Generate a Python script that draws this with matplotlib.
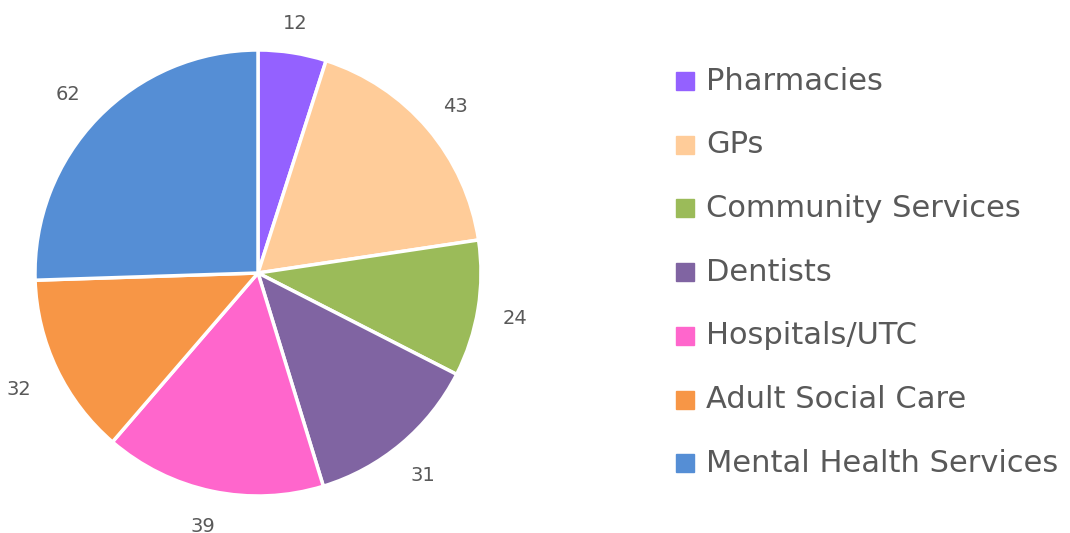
import numpy as np
import matplotlib.pyplot as plt
from matplotlib.patches import Rectangle

categories = ["Pharmacies", "GPs", "Community Services", "Dentists",
              "Hospitals/UTC", "Adult Social Care", "Mental Health Services"]
counts = [12, 43, 24, 31, 39, 32, 62]
colors = ["#9461FF", "#FFCC99", "#9BBB59", "#8064A2",
          "#FF66CC", "#F79646", "#558ED5"]

plt.rcParams['font.family'] = ['DejaVu Sans']
txt = "#595959"

W, H = 1070, 533
fig = plt.figure(figsize=(W / 100, H / 100), dpi=100)

# pie: centre (258, 273) px, radius 223 px
cx, cy, r = 258, 273, 223
ax = fig.add_axes([(cx - r) / W, (H - cy - r) / H, 2 * r / W, 2 * r / H])
wedges, _ = ax.pie(counts, colors=colors, startangle=90, counterclock=False,
                   wedgeprops=dict(edgecolor='white', linewidth=2.5))

# value labels just outside the rim
tw, th = 24 / r, 8 / r
for w, c in zip(wedges, counts):
    ang = np.deg2rad((w.theta1 + w.theta2) / 2)
    ca, sa = np.cos(ang), np.sin(ang)
    d = 1.12 + 0.5 * (tw * abs(ca) + th * abs(sa))
    ax.text(d * ca - 0.01, d * sa - 3 / r, str(c), color=txt, fontsize=14,
            ha='center', va='center')

ax.set_xlim(-1, 1)
ax.set_ylim(-1, 1)
ax.set_aspect('equal')
ax.axis('off')

# legend drawn manually
y0, dy = 81, 63.7
for i, (lab, col) in enumerate(zip(categories, colors)):
    y = y0 + i * dy
    fig.patches.append(Rectangle((676 / W, (H - y - 9) / H), 18 / W, 18 / H,
                                 transform=fig.transFigure, color=col))
    fig.text(706 / W, (H - y) / H, lab, color=txt, fontsize=22,
             va='center', ha='left')

plt.savefig("out.png", dpi=100)
